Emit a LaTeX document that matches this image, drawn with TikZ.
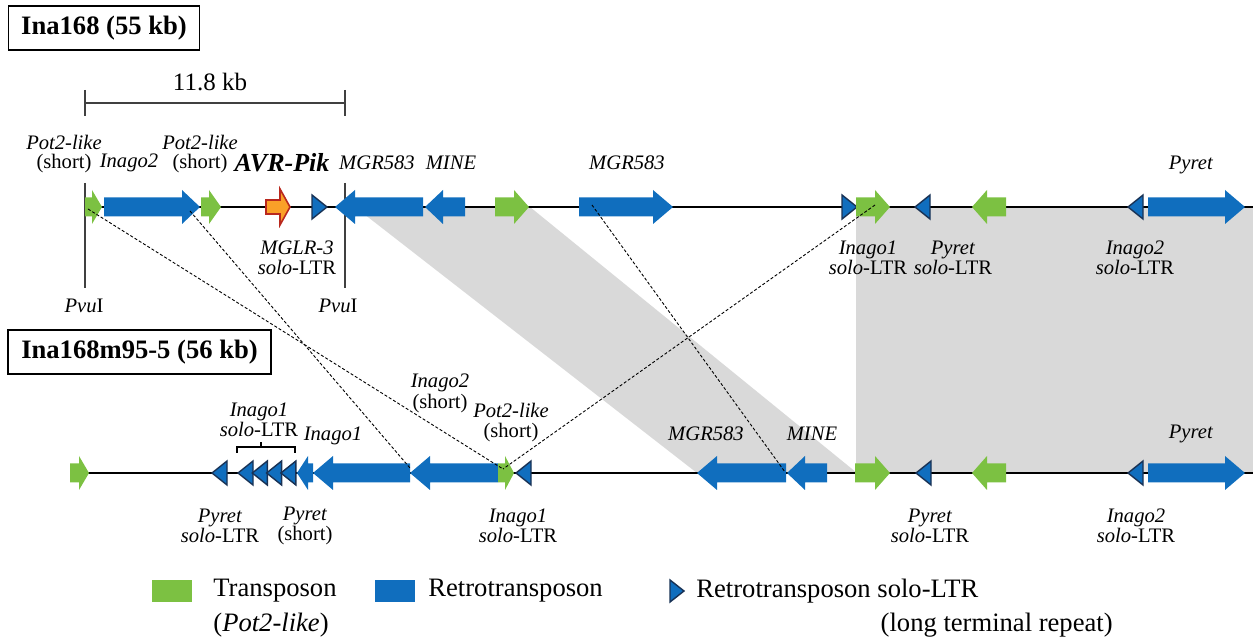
\documentclass[tikz,border=0pt]{standalone}
\usepackage{fontspec}
\setmainfont{Liberation Serif}
\definecolor{tgreen}{RGB}{124,193,66}
\definecolor{rblue}{RGB}{16,110,190}
\definecolor{ltrline}{RGB}{25,50,85}
\definecolor{avrfill}{RGB}{250,160,40}
\definecolor{avrline}{RGB}{185,40,30}
\definecolor{synt}{RGB}{217,217,217}
\tikzset{
  tpn/.style={fill=tgreen},
  rtn/.style={fill=rblue},
  ltr/.style={fill=rblue, draw=ltrline, line width=0.7pt},
  avr/.style={fill=avrfill, draw=avrline, line width=0.8pt},
  trk/.style={line width=1.3pt},
  bar/.style={draw=black!75, line width=0.55pt},
  hom/.style={line width=0.45pt, dash pattern=on 1.5pt off 1pt},
  lbl/.style={font={\fontsize{10.3}{10}\selectfont}, align=center, inner sep=0pt},
  ttl/.style={draw, line width=0.6pt, font={\fontsize{13.3}{14}\selectfont\bfseries}, minimum height=22pt},
  leg/.style={font={\fontsize{13.3}{14}\selectfont}, inner sep=0pt}
}
% gene arrows on the track at height \trky
\newcommand{\rgene}[4]{\fill[#1] (#2,\trky-\bodyh) -- (#3-#4,\trky-\bodyh) -- (#3-#4,\trky-\headh) -- (#3,\trky) -- (#3-#4,\trky+\headh) -- (#3-#4,\trky+\bodyh) -- (#2,\trky+\bodyh) -- cycle;}
\newcommand{\lgene}[4]{\fill[#1] (#3,\trky-\bodyh) -- (#2+#4,\trky-\bodyh) -- (#2+#4,\trky-\headh) -- (#2,\trky) -- (#2+#4,\trky+\headh) -- (#2+#4,\trky+\bodyh) -- (#3,\trky+\bodyh) -- cycle;}
\newcommand{\rltr}[1]{\filldraw[ltr] (#1,\trky-12) -- (#1+15,\trky) -- (#1,\trky+12) -- cycle;}
\newcommand{\lltr}[1]{\filldraw[ltr] (#1+15,\trky-12) -- (#1,\trky) -- (#1+15,\trky+12) -- cycle;}
\begin{document}
\begin{tikzpicture}[x=0.5pt, y=-0.5pt]
    \useasboundingbox (0,0) rectangle (1253,641);
    \def\bodyh{9.5};
    \def\headh{17};

    % syntenic regions
    \fill[synt] (355,207) -- (530,207) -- (857,473) -- (697,473) -- cycle;
    \fill[synt] (856,207) rectangle (1253,473);

    \node[ttl, minimum width=95.5pt] (ttlA) at (104,28) {Ina168 (55 kb)};
    \node[ttl, minimum width=131.5pt] (ttlB) at (139.5,352) {Ina168m95-5 (56 kb)};

    % scale bar and PvuI sites
    \draw[bar] (85,103) -- (345,103);
    \draw[bar] (85,90) -- (85,116);
    \draw[bar] (345,90) -- (345,116);
    \node[font={\fontsize{12.5}{13}\selectfont}, inner sep=0pt] (scl) at (210,82) {11.8 kb};
    \draw[bar] (85,183) -- (85,288);
    \draw[bar] (345,183) -- (345,288);

    % Ina168
    \def\trky{207};
    \draw[trk] (95,\trky) -- (1253,\trky);
    \rgene{tpn}{85}{102}{10}
    \rgene{rtn}{104}{200}{18}
    \rgene{tpn}{201}{221}{12}
    \draw[avr] (266,200) -- (280,200) -- (280,189) -- (290,207) -- (280,225) -- (280,214) -- (266,214) -- cycle;
    \rltr{312}
    \lgene{rtn}{335}{423}{20}
    \lgene{rtn}{425}{465}{18}
    \rgene{tpn}{495}{529}{15}
    \rgene{rtn}{579}{673}{20}
    \rltr{842}
    \rgene{tpn}{856}{890}{15}
    \lltr{915}
    \lgene{tpn}{972}{1006}{15}
    \lltr{1128}
    \rgene{rtn}{1148}{1245}{20}

    % Ina168m95-5
    \def\trky{473};
    \draw[trk] (85,\trky) -- (1253,\trky);
    \rgene{tpn}{70}{89}{10}
    \lltr{212}
    \foreach \i in {0,...,3}{\lltr{238+14.3*\i}}
    \lgene{rtn}{297}{313}{11}
    \lgene{rtn}{313}{410}{20}
    \lgene{rtn}{410}{498}{20}
    \rgene{tpn}{498}{514}{9}
    \lltr{516}
    \lgene{rtn}{697}{786}{20}
    \lgene{rtn}{787}{827}{18}
    \rgene{tpn}{855}{890}{15}
    \lltr{916}
    \lgene{tpn}{972}{1006}{15}
    \lltr{1128}
    \rgene{rtn}{1148}{1245}{20}
    \draw[line width=0.6pt] (237,453) -- (237,447) -- (295,447) -- (295,453);
    \draw[line width=0.6pt] (261,447) -- (261,442);

    % homologous copies
    \coordinate (hA1) at (88,209);
    \coordinate (hA2) at (190,211);
    \coordinate (hA3) at (592,205);
    \coordinate (hA4) at (875,205);
    \coordinate (hB1) at (503,469);
    \coordinate (hB2) at (410,468);
    \coordinate (hB3) at (785,472);
    \draw[hom] (hA1) -- (hB1);
    \draw[hom] (hA2) -- (hB2);
    \draw[hom] (hA3) -- (hB3);
    \draw[hom] (hA4) -- (hB1);

    % labels, Ina168
    \node[lbl] (potAl) at (64,154) {\textit{Pot2-like}\\[-0.5pt](short)};
    \node[lbl] (ina2Al) at (129,163) {\textit{Inago2}};
    \node[lbl] (potBl) at (200,154) {\textit{Pot2-like}\\[-0.5pt](short)};
    \node[lbl, font={\fontsize{13}{14}\selectfont\bfseries\itshape}] (avrl) at (282,163) {AVR-Pik};
    \node[lbl] (mgrAl) at (377,163) {\textit{MGR583}};
    \node[lbl] (mineAl) at (451,163) {\textit{MINE}};
    \node[lbl] (mgrBl) at (627,163) {\textit{MGR583}};
    \node[lbl] (pyrAl) at (1191,165) {\textit{Pyret}};
    \node[lbl] (mglrl) at (297,258) {\textit{MGLR-3}\\\textit{solo}-LTR};
    \node[lbl] (pvuAl) at (84,306) {\textit{Pvu}I};
    \node[lbl] (pvuBl) at (338,306) {\textit{Pvu}I};
    \node[lbl] (ina1Al) at (868,258) {\textit{Inago1}\\\textit{solo}-LTR};
    \node[lbl] (pyrltrAl) at (953,258) {\textit{Pyret}\\\textit{solo}-LTR};
    \node[lbl] (ina2ltrAl) at (1135,258) {\textit{Inago2}\\\textit{solo}-LTR};

    % labels, Ina168m95-5
    \node[lbl] (ina1ltrBl) at (259,420) {\textit{Inago1}\\\textit{solo}-LTR};
    \node[lbl] (ina1Bl) at (333,436) {\textit{Inago1}};
    \node[lbl] (ina2Bl) at (440,393) {\textit{Inago2}\\[0.5pt](short)};
    \node[lbl] (potCl) at (511,423) {\textit{Pot2-like}\\(short)};
    \node[lbl] (mgrCl) at (706,434) {\textit{MGR583}};
    \node[lbl] (mineCl) at (812,434) {\textit{MINE}};
    \node[lbl] (pyrBl) at (1191,434) {\textit{Pyret}};
    \node[lbl] (pyrltrBl) at (220,526) {\textit{Pyret}\\\textit{solo}-LTR};
    \node[lbl] (pyrshl) at (305,526) {\textit{Pyret}\\(short)};
    \node[lbl] (ina1ltrCl) at (518,526) {\textit{Inago1}\\\textit{solo}-LTR};
    \node[lbl] (pyrltrCl) at (930,526) {\textit{Pyret}\\\textit{solo}-LTR};
    \node[lbl] (ina2ltrBl) at (1136,526) {\textit{Inago2}\\\textit{solo}-LTR};

    % legend
    \fill[tpn] (152,580) rectangle (192,602);
    \node[leg, anchor=west] (legT) at (213,591) {Transposon};
    \node[leg, anchor=west] (legP) at (213,625) {(\textit{Pot2-like})};
    \fill[rtn] (375,580) rectangle (415,602);
    \node[leg, anchor=west] (legR) at (428,591) {Retrotransposon};
    \filldraw[ltr] (670,580) -- (684,591) -- (670,602) -- cycle;
    \node[leg, anchor=west] (legL) at (696,591) {Retrotransposon solo-LTR};
    \node[leg, anchor=east] (legLT) at (1113,625) {(long terminal repeat)};
\end{tikzpicture}
\end{document}
